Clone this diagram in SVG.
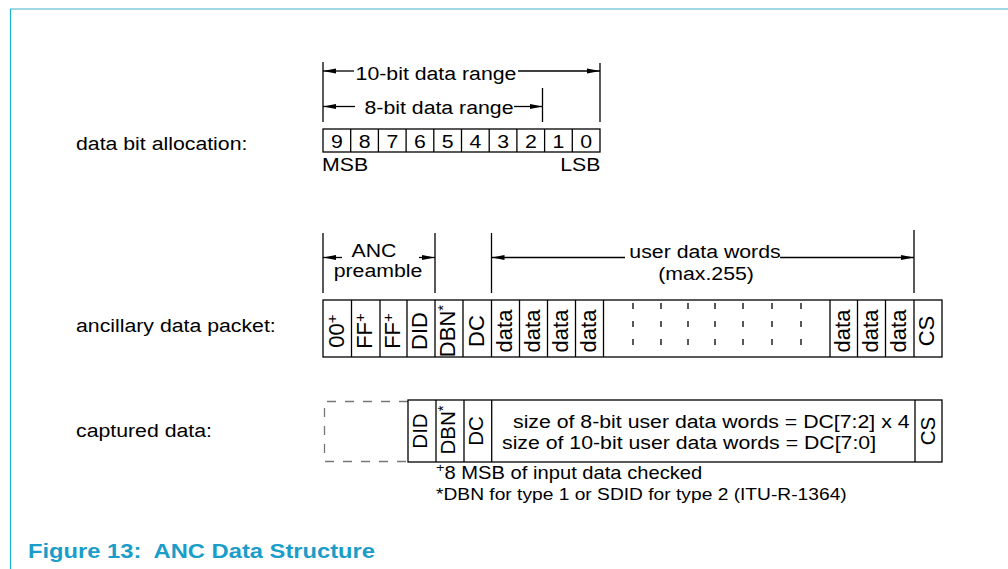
<svg xmlns="http://www.w3.org/2000/svg" width="1008" height="569" viewBox="0 0 1008 569">
<defs>
<marker id="ah" viewBox="0 0 13 6" refX="13" refY="3" markerWidth="13" markerHeight="6" markerUnits="userSpaceOnUse" orient="auto-start-reverse">
<path d="M0,0.5 L13,3 L0,5.5 Z" fill="#000"/>
</marker>
<style>
.t{font-family:"Liberation Sans",Arial,sans-serif;font-size:19px;fill:#000}
.r{font-family:"Liberation Sans",Arial,sans-serif;font-size:22px;fill:#000;text-anchor:middle}
.rc{font-family:"Liberation Sans",Arial,sans-serif;font-size:20.5px;fill:#000;text-anchor:middle}
.m{text-anchor:middle}
.e{text-anchor:end}
.ln{stroke:#000;stroke-width:1.3;fill:none}
.cell{stroke:#000;stroke-width:1.3;fill:#fff}
.dsh{stroke:#000;stroke-width:1.3;stroke-dasharray:6 12}
.gd{stroke:#777;stroke-width:1.3;fill:none;stroke-dasharray:9 9}
.sup{font-size:15px}
.fs{font-size:13px}
</style>
</defs>
<rect width="1008" height="569" fill="#fff"/>
<g id="frame">
<line x1="10" y1="9" x2="1008" y2="9" stroke="#7ecde0" stroke-width="1.6"/>
<line x1="10.5" y1="9" x2="10.5" y2="569" stroke="#1cb1d9" stroke-width="1.2"/>
</g>
<g id="labels">
<text class="t" transform="translate(76,150) scale(1.12,1)">data bit allocation:</text>
<text class="t" transform="translate(76,332) scale(1.12,1)">ancillary data packet:</text>
<text class="t" transform="translate(76,437) scale(1.12,1)">captured data:</text>
</g>
<g id="bit-allocation">
<rect class="cell" x="323" y="129" width="277" height="23"/>
<g class="ln">
<line x1="350.7" y1="129" x2="350.7" y2="152"/><line x1="378.4" y1="129" x2="378.4" y2="152"/>
<line x1="406.1" y1="129" x2="406.1" y2="152"/><line x1="433.8" y1="129" x2="433.8" y2="152"/>
<line x1="461.5" y1="129" x2="461.5" y2="152"/><line x1="489.2" y1="129" x2="489.2" y2="152"/>
<line x1="516.9" y1="129" x2="516.9" y2="152"/><line x1="544.6" y1="129" x2="544.6" y2="152"/>
<line x1="572.3" y1="129" x2="572.3" y2="152"/>
</g>
<g class="t m">
<text transform="translate(336.9,148) scale(1.12,1)">9</text>
<text transform="translate(364.6,148) scale(1.12,1)">8</text>
<text transform="translate(392.3,148) scale(1.12,1)">7</text>
<text transform="translate(420,148) scale(1.12,1)">6</text>
<text transform="translate(447.7,148) scale(1.12,1)">5</text>
<text transform="translate(475.4,148) scale(1.12,1)">4</text>
<text transform="translate(503.1,148) scale(1.12,1)">3</text>
<text transform="translate(530.8,148) scale(1.12,1)">2</text>
<text transform="translate(558.5,148) scale(1.12,1)">1</text>
<text transform="translate(586.2,148) scale(1.12,1)">0</text>
</g>
<text class="t" transform="translate(322,170.5) scale(1.12,1)">MSB</text>
<text class="t e" transform="translate(600.5,170.5) scale(1.12,1)">LSB</text>
</g>
<g id="packet">
<rect class="cell" x="323" y="300" width="619" height="57"/>
<g class="ln">
<line x1="351.5" y1="300" x2="351.5" y2="357"/><line x1="380" y1="300" x2="380" y2="357"/>
<line x1="407" y1="300" x2="407" y2="357"/><line x1="435" y1="300" x2="435" y2="357"/>
<line x1="463" y1="300" x2="463" y2="357"/><line x1="491.5" y1="300" x2="491.5" y2="357"/>
<line x1="519.5" y1="300" x2="519.5" y2="357"/><line x1="547.5" y1="300" x2="547.5" y2="357"/>
<line x1="575.5" y1="300" x2="575.5" y2="357"/><line x1="603.5" y1="300" x2="603.5" y2="357"/>
<line x1="830" y1="300" x2="830" y2="357"/><line x1="857.5" y1="300" x2="857.5" y2="357"/>
<line x1="885.5" y1="300" x2="885.5" y2="357"/><line x1="914" y1="300" x2="914" y2="357"/>
</g>
<g>
<line class="dsh" x1="633" y1="303" x2="633" y2="352"/><line class="dsh" x1="661" y1="303" x2="661" y2="352"/>
<line class="dsh" x1="688" y1="303" x2="688" y2="352"/><line class="dsh" x1="715" y1="303" x2="715" y2="352"/>
<line class="dsh" x1="743" y1="303" x2="743" y2="352"/><line class="dsh" x1="772" y1="303" x2="772" y2="352"/>
<line class="dsh" x1="801" y1="303" x2="801" y2="352"/>
</g>
<g class="r">
<text transform="translate(343.5,331) rotate(-90)">00<tspan class="sup" dy="-7">+</tspan></text>
<text transform="translate(372,331) rotate(-90)">FF<tspan class="sup" dy="-7">+</tspan></text>
<text transform="translate(399.5,331) rotate(-90)">FF<tspan class="sup" dy="-7">+</tspan></text>
<text transform="translate(427,331) rotate(-90)">DID</text>
<text transform="translate(455,331) rotate(-90)">DBN<tspan class="sup" dy="-7">*</tspan></text>
<text transform="translate(483.5,331) rotate(-90)">DC</text>
<text transform="translate(511.5,331) rotate(-90)">data</text>
<text transform="translate(539.5,331) rotate(-90)">data</text>
<text transform="translate(567.5,331) rotate(-90)">data</text>
<text transform="translate(595.5,331) rotate(-90)">data</text>
<text transform="translate(850,331) rotate(-90)">data</text>
<text transform="translate(878,331) rotate(-90)">data</text>
<text transform="translate(906,331) rotate(-90)">data</text>
<text transform="translate(934,331) rotate(-90)">CS</text>
</g>
</g>
<g id="captured">
<path class="gd" d="M408,401.5 H324.5 V461.5 H408"/>
<rect class="cell" x="408" y="400" width="534" height="62"/>
<g class="ln">
<line x1="436" y1="400" x2="436" y2="462"/><line x1="464" y1="400" x2="464" y2="462"/>
<line x1="491.7" y1="400" x2="491.7" y2="462"/><line x1="915" y1="400" x2="915" y2="462"/>
</g>
<g class="rc">
<text transform="translate(427,431) rotate(-90)">DID</text>
<text transform="translate(455,430) rotate(-90)">DBN<tspan class="sup" dy="-7">*</tspan></text>
<text transform="translate(483,431) rotate(-90)">DC</text>
<text transform="translate(935,431) rotate(-90)">CS</text>
</g>
<text class="t" transform="translate(513,427.5) scale(1.12,1)">size of 8-bit user data words = DC[7:2] x 4</text>
<text class="t" transform="translate(502,448.5) scale(1.12,1)">size of 10-bit user data words = DC[7:0]</text>
</g>
<g id="footnotes">
<text class="t" style="font-size:18px" transform="translate(436,479) scale(1.12,1)"><tspan class="fs" dy="-7">+</tspan><tspan dy="7">8 MSB of input data checked</tspan></text>
<text class="t" style="font-size:17px" transform="translate(436,500) scale(1.13,1)">*DBN for type 1 or SDID for type 2 (ITU-R-1364)</text>
</g>
<g id="dimension-labels">
<text class="t m" transform="translate(436,80) scale(1.12,1)">10-bit data range</text>
<text class="t m" transform="translate(439,114) scale(1.12,1)">8-bit data range</text>
<text class="t m" transform="translate(374,257) scale(1.12,1)">ANC</text>
<text class="t m" transform="translate(378,277) scale(1.12,1)">preamble</text>
<text class="t m" transform="translate(705,258) scale(1.12,1)">user data words</text>
<text class="t m" transform="translate(706,280) scale(1.12,1)">(max.255)</text>
</g>
<g id="connectors" class="ln">
<line x1="323" y1="62" x2="323" y2="122"/>
<line x1="600" y1="63" x2="600" y2="122"/>
<line x1="542.5" y1="88" x2="542.5" y2="122"/>
<line x1="354" y1="71" x2="323" y2="71" marker-end="url(#ah)"/>
<line x1="518" y1="71" x2="600" y2="71" marker-end="url(#ah)"/>
<line x1="355" y1="106.5" x2="323" y2="106.5" marker-end="url(#ah)"/>
<line x1="514" y1="106.5" x2="542.5" y2="106.5" marker-end="url(#ah)"/>
<line x1="323" y1="233" x2="323" y2="293"/>
<line x1="435" y1="233" x2="435" y2="293"/>
<line x1="491.5" y1="233" x2="491.5" y2="293"/>
<line x1="914" y1="230" x2="914" y2="293"/>
<line x1="342" y1="257.5" x2="323" y2="257.5" marker-end="url(#ah)"/>
<line x1="419" y1="257.5" x2="435" y2="257.5" marker-end="url(#ah)"/>
<line x1="625" y1="257.5" x2="491.5" y2="257.5" marker-end="url(#ah)"/>
<line x1="780" y1="257.5" x2="914" y2="257.5" marker-end="url(#ah)"/>
</g>
<text transform="translate(28,558) scale(1.13,1)" style="font-family:'Liberation Sans',Arial,sans-serif;font-weight:bold;font-size:21px;fill:#1b9dc9;white-space:pre">Figure 13:  ANC Data Structure</text>
</svg>
